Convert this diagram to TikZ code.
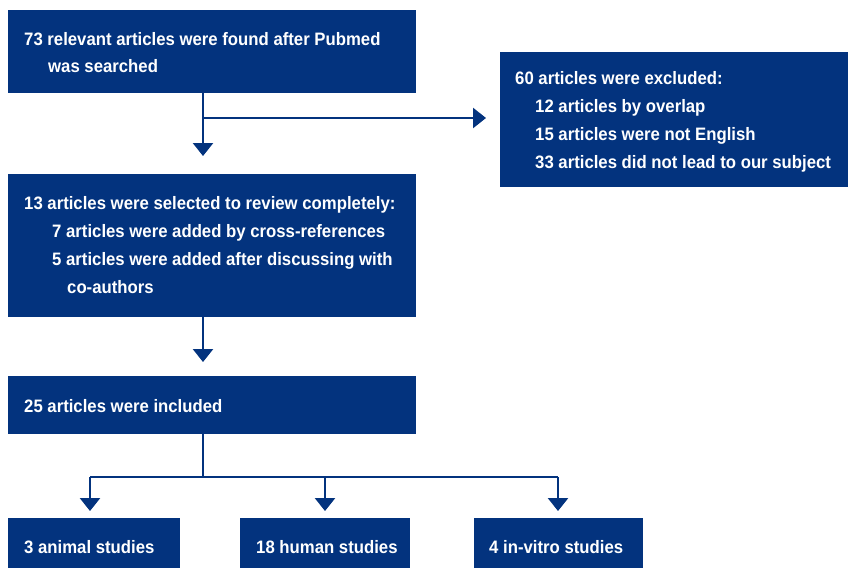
\documentclass[tikz,border=0pt]{standalone}
\usepackage{fontspec}
\setmainfont{Liberation Sans}[FakeStretch=0.93]
\usetikzlibrary{arrows.meta}
\definecolor{navy}{RGB}{3,51,126}
\tikzset{
  box/.style={fill=navy, draw=none, anchor=north west, inner sep=0pt},
  txt/.style={text=white, font=\fontsize{18}{20}\selectfont\bfseries, anchor=base west, inner sep=0pt},
  conn/.style={draw=navy, line width=2.6pt},
  arr/.style={conn, -{Triangle[width=20pt,length=13pt]}},
}
\begin{document}
\begin{tikzpicture}[x=1pt,y=-1pt]
\useasboundingbox (0,0) rectangle (848,568);
% boxes
\node[box, minimum width=408pt, minimum height=83pt] (b1) at (8,10) {};
\node[box, minimum width=348pt, minimum height=135pt] (b2) at (500,52) {};
\node[box, minimum width=408pt, minimum height=143pt] (b3) at (8,174) {};
\node[box, minimum width=408pt, minimum height=58pt] (b4) at (8,376) {};
\node[box, minimum width=172pt, minimum height=50pt] (c1) at (8,518) {};
\node[box, minimum width=170pt, minimum height=50pt] (c2) at (240,518) {};
\node[box, minimum width=169pt, minimum height=50pt] (c3) at (474,518) {};
% texts
\node[txt] (t1a) at (24,45) {73 relevant articles were found after Pubmed};
\node[txt] (t1b) at (48,72) {was searched};
\node[txt] (t2a) at (515,84) {60 articles were excluded:};
\node[txt] (t2b) at (535,112) {12 articles by overlap};
\node[txt] (t2c) at (535,140) {15 articles were not English};
\node[txt] (t2d) at (535,168) {33 articles did not lead to our subject};
\node[txt] (t3a) at (24,209) {13 articles were selected to review completely:};
\node[txt] (t3b) at (52,237) {7 articles were added by cross-references};
\node[txt] (t3c) at (52,265) {5 articles were added after discussing with};
\node[txt] (t3d) at (67,293) {co-authors};
\node[txt] (t4) at (24,412) {25 articles were included};
\node[txt] (tc1) at (24,553) {3 animal studies};
\node[txt] (tc2) at (256,553) {18 human studies};
\node[txt] (tc3) at (489,553) {4 in-vitro studies};
% connectors
\coordinate (k1) at (203,118);
\coordinate (e1) at (486,118);
\draw[arr] (b1.south -| k1) -- (203,156);
\draw[arr] (k1) -- (e1);
\draw[arr] (b3.south -| k1) -- (203,362);
\coordinate (k2) at (203,477);
\draw[conn] (b4.south -| k2) -- (k2);
\draw[conn] (90,477) -- (558,477);
\draw[arr] (90,477) -- (90,511);
\draw[arr] (325,477) -- (325,511);
\draw[arr] (558,477) -- (558,511);
\end{tikzpicture}
\end{document}
